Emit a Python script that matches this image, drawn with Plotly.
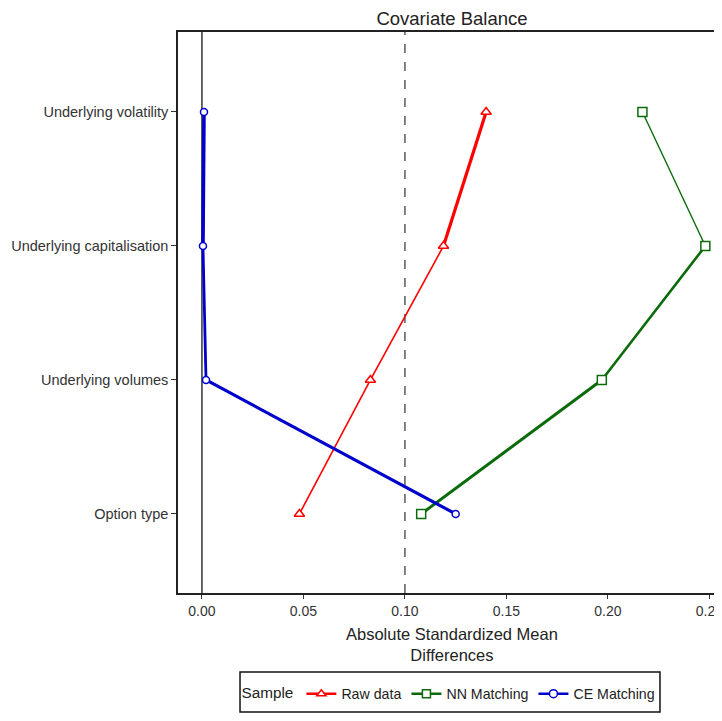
import plotly.graph_objects as go

covariates = ["Option type", "Underlying volumes", "Underlying capitalisation", "Underlying volatility"]
raw_data = [0.048, 0.083, 0.119, 0.140]
nn_matching = [0.108, 0.197, 0.248, 0.217]
ce_matching = [0.125, 0.002, 0.0005, 0.001]
x_ticks = [0.00, 0.05, 0.10, 0.15, 0.20, 0.25]
threshold = 0.10

series = [
    ("Raw data", raw_data, "#FF0000", "triangle-up", [1.6, 1.6, 3.2]),
    ("NN Matching", nn_matching, "#0B6B0B", "square", [3.0, 2.6, 1.4]),
    ("CE Matching", ce_matching, "#0000CC", "circle", [3.2, 2.8, 3.6]),
]

ypos = list(range(1, len(covariates) + 1))

fig = go.Figure()
for name, vals, color, sym, widths in series:
    for i in range(len(vals) - 1):
        fig.add_trace(go.Scatter(
            x=vals[i:i + 2], y=ypos[i:i + 2], mode="lines",
            line=dict(color=color, width=widths[i]),
            showlegend=False, hoverinfo="skip"))
for name, vals, color, sym, widths in series:
    fig.add_trace(go.Scatter(
        x=vals, y=ypos, mode="markers", showlegend=False,
        marker=dict(symbol=sym, size=9 if sym != "circle" else 7, color="white",
                    line=dict(color=color, width=1.5))))
for name, vals, color, sym, widths in series:
    fig.add_trace(go.Scatter(
        x=[None], y=[None], mode="lines+markers", name=name,
        line=dict(color=color, width=2.5),
        marker=dict(symbol=sym, size=8, color="white", line=dict(color=color, width=1.5))))

fig.add_vline(x=0, line=dict(color="black", width=1.2), layer="below")
fig.add_vline(x=threshold, line=dict(color="#333333", width=1.2, dash="dash"), layer="below")

# legend frame
fig.add_shape(type="rect", xref="paper", yref="paper",
              x0=0.114, x1=0.886, y0=-0.2121, y1=-0.1408,
              line=dict(color="#111111", width=1.5), fillcolor="rgba(0,0,0,0)")

# x-axis title
fig.add_annotation(text="Absolute Standardized Mean<br>Differences",
                   xref="paper", yref="paper", x=0.5037, y=-0.0535,
                   xanchor="center", yanchor="top", showarrow=False,
                   font=dict(size=16.5, color="#222222"))

fig.update_layout(
    width=714, height=705,
    margin=dict(l=170, r=0, t=24, b=120, autoexpand=False),
    paper_bgcolor="white", plot_bgcolor="white",
    font=dict(family="Liberation Sans, Arial, sans-serif", color="#222222"),
    title=dict(text="Covariate Balance", x=0.5037, xref="paper", xanchor="center",
               yref="container", y=1 - 11 / 705, yanchor="middle",
               font=dict(size=18.5, color="#222222")),
    xaxis=dict(range=[-0.0118, 0.2562], tickvals=x_ticks,
               ticktext=[f"{v:.2f}" for v in x_ticks], automargin=False,
               ticklabeloverflow="allow",
               ticks="outside", ticklen=4, tickcolor="#333333",
               showline=True, linecolor="#222222", linewidth=1.5, mirror=True,
               showgrid=False, zeroline=False, tickfont=dict(size=14, color="#333333")),
    yaxis=dict(range=[0.41, 4.597], tickvals=ypos, ticktext=covariates, automargin=False,
               ticks="outside", ticklen=5, tickcolor="#333333",
               showline=True, linecolor="#222222", linewidth=1.5, mirror=False,
               showgrid=False, zeroline=False, tickfont=dict(size=14.5, color="#333333")),
    legend=dict(orientation="h", x=0.5, xanchor="center", y=-0.180, yanchor="middle",
                borderwidth=0, bgcolor="rgba(0,0,0,0)",
                title=dict(text="Sample", font=dict(size=15.3, color="#222222")),
                font=dict(size=14.2, color="#222222"), itemwidth=30),
)

fig.write_html("out.html")
